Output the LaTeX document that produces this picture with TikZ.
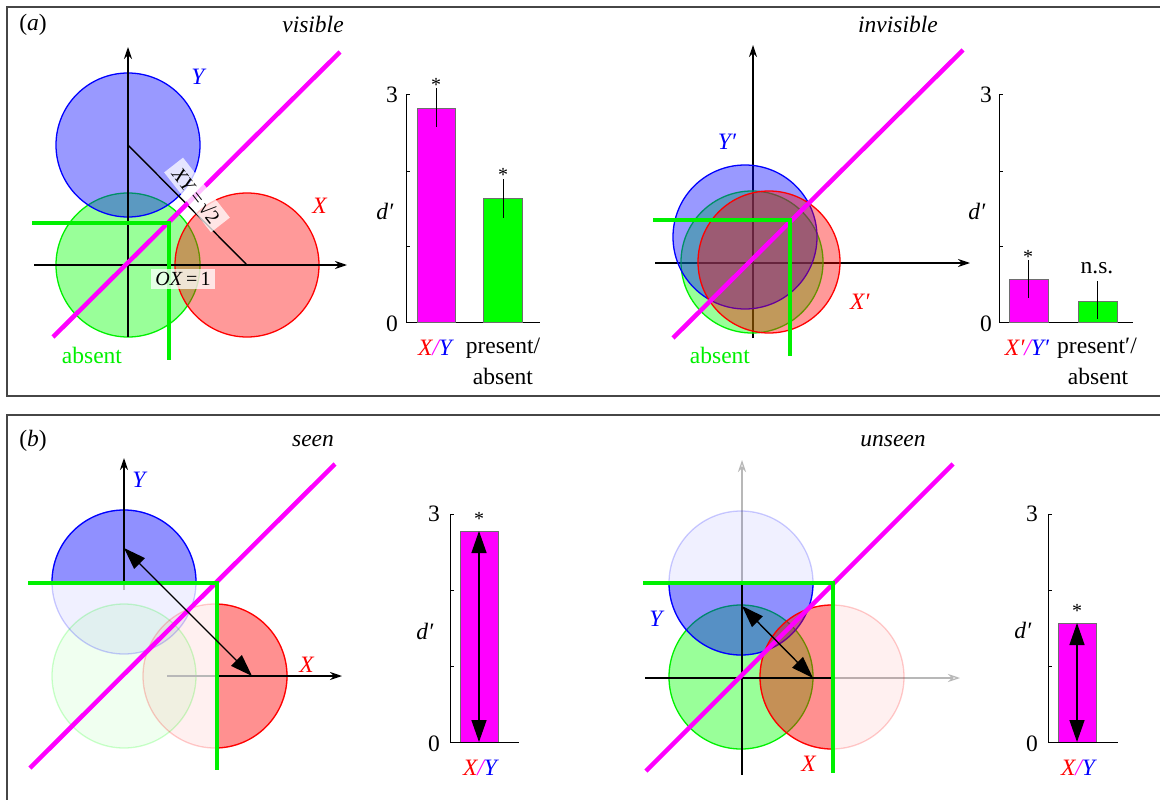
\documentclass[tikz,border=0pt]{standalone}
\usepackage{fontspec}
\setmainfont{Liberation Serif}
\usetikzlibrary{arrows.meta}
\definecolor{tgreen}{RGB}{0,240,0}
\definecolor{mag}{RGB}{255,0,255}
\definecolor{pgreen}{RGB}{0,255,0}
\definecolor{pblue}{RGB}{0,0,255}
\definecolor{pred}{RGB}{255,0,0}
\definecolor{frm}{RGB}{70,70,70}
\definecolor{barline}{RGB}{110,110,110}
\begin{document}
\begin{tikzpicture}[x=1pt,y=-1pt,
  font=\fontsize{23.5}{27}\selectfont,
  lbl/.style={inner sep=0pt},
  ast/.style={inner sep=0pt,font=\fontsize{20}{22}\selectfont},
  ax/.style={line width=1.4pt,-{Stealth[length=12pt,width=8pt]}},
  axl/.style={line width=1.4pt},
  gaxl/.style={line width=1.2pt,draw=black!28},
  gax/.style={line width=1.2pt,draw=black!28,-{Stealth[length=12pt,width=8pt,open]}},
  diag/.style={line width=4.5pt,draw=mag},
  thr/.style={line width=4.5pt,draw=tgreen,line join=miter},
  cB/.style={draw=pblue,line width=1.3pt,fill=pblue,fill opacity=0.4},
  cR/.style={draw=pred,line width=1.3pt,fill=pred,fill opacity=0.4},
  cG/.style={draw=tgreen,line width=1.3pt,fill=pgreen,fill opacity=0.4},
  fB/.style={draw=pblue,draw opacity=0.2,line width=1.3pt,fill=pblue,fill opacity=0.06},
  fR/.style={draw=pred,draw opacity=0.2,line width=1.3pt,fill=pred,fill opacity=0.06},
  fG/.style={draw=pgreen,draw opacity=0.2,line width=1.3pt,fill=pgreen,fill opacity=0.06},
  bax/.style={line width=1pt},
  barM/.style={fill=mag,draw=barline,line width=0.8pt},
  barG/.style={fill=pgreen,draw=barline,line width=0.8pt},
  err/.style={line width=1pt},
  dbl/.style={line width=1.4pt,{Triangle[length=22pt,width=15pt]}-{Triangle[length=22pt,width=15pt]}},
  wbox/.style={fill=white,fill opacity=0.75,text opacity=1,inner xsep=6pt,inner ysep=4pt,font=\fontsize{20}{22}\selectfont},
  frame/.style={draw=frm,line width=1.2pt}
]
\clip (0,0) rectangle (1160,800);
\useasboundingbox (0,0) rectangle (1160,800);
\fill[white] (0,0) rectangle (1160,800);

% frames
\draw[frame] (7,7) rectangle (1175,396);
\draw[frame] (7,415) rectangle (1175,815);

% ================= panel (a) visible =================
\coordinate (Oa) at (128,265);
\coordinate (Xa) at (247,265);
\coordinate (Ya) at (128,145);
\node[lbl] (la) at (33,25) {(\textit{a})};
\node[lbl] (vis) at (313,24) {\textit{visible}};
\draw[cG] (Oa) circle[radius=72pt];
\draw[cB] (Ya) circle[radius=72pt];
\draw[cR] (Xa) circle[radius=72pt];
\coordinate (aHl) at (34,265); \coordinate (aHr) at (347,265);
\coordinate (aVb) at (128,337); \coordinate (aVt) at (128,47);
\draw[ax] (aHl) -- (aHr);
\draw[ax] (aVb) -- (aVt);
\draw[axl] (Ya) -- (Xa);
\coordinate (aD1) at (53,337); \coordinate (aD2) at (340,52);
\draw[diag] (aD1) -- (aD2);
\coordinate (aT1) at (32,223); \coordinate (aT2) at (169,223); \coordinate (aT3) at (169,360);
\draw[thr] (aT1) -- (aT2) -- (aT3);
\node[wbox,rotate=-52] (xylab) at (197,195) {\textit{XY}\,=\,√2};
\node[wbox,inner xsep=4pt,inner ysep=3pt] (oxlab) at (183,279) {\textit{OX}\,=\,1};
\node[lbl,text=pblue] (aYl) at (199,77) {\textit{Y}};
\node[lbl,text=pred] (aXl) at (320,206) {\textit{X}};
\node[lbl,text=tgreen] (aabs) at (92,355) {absent};

% bar chart a1
\coordinate (b1t) at (406,95); \coordinate (b1o) at (406,322); \coordinate (b1r) at (540,322);
\draw[bax] (b1t) -- (b1o) -- (b1r);
\foreach \yy in {95,171,246} \draw[bax] (406,\yy) -- (410,\yy);
\node[lbl] (b1three) at (392,95) {3};
\node[lbl] (b1zero) at (392,324) {0};
\node[lbl] (b1d) at (385,211) {\textit{d′}};
\draw[barM] (417,108) rectangle (455,322);
\draw[err] (436,88) -- (436,127);
\node[ast] (b1s1) at (436,85) {*};
\draw[barG] (483,198) rectangle (522,322);
\draw[err] (503,179) -- (503,218);
\node[ast] (b1s2) at (503,175) {*};
\node[lbl] (b1xy) at (435,348) {\textit{\textcolor{pred}{X}\textcolor{mag}{/}\textcolor{pblue}{Y}}};
\node[lbl] (b1p) at (503,348) {present/};
\node[lbl] (b1a) at (503,376) {absent};

% ================= panel (a) invisible =================
\coordinate (Ob) at (753,263);
\node[lbl] (invis) at (898,24) {\textit{invisible}};
\coordinate (iHl) at (655,263); \coordinate (iHr) at (970,263);
\coordinate (iVb) at (753,338); \coordinate (iVt) at (753,45);
\draw[ax] (iHl) -- (iHr);
\draw[ax] (iVb) -- (iVt);
\draw[cG] (752,262) circle[radius=71pt];
\draw[cB] (745,237) circle[radius=72pt];
\draw[cR] (769,262) circle[radius=71pt];
\coordinate (iD1) at (673,338); \coordinate (iD2) at (963,50);
\draw[diag] (iD1) -- (iD2);
\coordinate (iT1) at (653,220); \coordinate (iT2) at (790,220); \coordinate (iT3) at (790,356);
\draw[thr] (iT1) -- (iT2) -- (iT3);
\node[lbl,text=pblue] (iYl) at (727,142) {\textit{Y′}};
\node[lbl,text=pred] (iXl) at (860,302) {\textit{X′}};
\node[lbl,text=tgreen] (iabs) at (720,355) {absent};

% bar chart a2
\coordinate (b2t) at (999,95); \coordinate (b2o) at (999,322); \coordinate (b2r) at (1133,322);
\draw[bax] (b2t) -- (b2o) -- (b2r);
\foreach \yy in {95,171,246} \draw[bax] (999,\yy) -- (1003,\yy);
\node[lbl] (b2three) at (986,95) {3};
\node[lbl] (b2zero) at (986,324) {0};
\node[lbl] (b2d) at (977,211) {\textit{d′}};
\draw[barM] (1009,279) rectangle (1048,322);
\draw[err] (1028,260) -- (1028,298);
\node[ast] (b2s1) at (1028,257) {*};
\draw[barG] (1078,301) rectangle (1117,322);
\draw[err] (1097,281) -- (1097,319);
\node[lbl] (b2ns) at (1097,268) {n.s.};
\node[lbl] (b2xy) at (1027,348) {\textit{\textcolor{pred}{X′}\textcolor{mag}{/}\textcolor{pblue}{Y′}}};
\node[lbl] (b2p) at (1097,348) {present′/};
\node[lbl] (b2a) at (1098,376) {absent};

% ================= panel (b) seen =================
\node[lbl] (lb) at (33,441) {(\textit{b})};
\node[lbl] (seen) at (313,441) {\textit{seen}};
\coordinate (sG) at (124,676);
\coordinate (sB) at (124,582);
\coordinate (sR) at (215,676);
\draw[fG] (sG) circle[radius=72pt];
\draw[fB] (sB) circle[radius=72pt];
\begin{scope}
  \clip (40,500) rectangle (220,583);
  \draw[cB] (sB) circle[radius=72pt];
\end{scope}
\draw[fR] (sR) circle[radius=72pt];
\begin{scope}
  \clip (217,590) rectangle (300,760);
  \draw[cR] (sR) circle[radius=72pt];
\end{scope}
\coordinate (sHl) at (167,676); \coordinate (sHm) at (217,676); \coordinate (sHr) at (342,676);
\draw[gaxl] (sHl) -- (sHm);
\draw[ax] (sHm) -- (sHr);
\coordinate (sVb) at (124,590); \coordinate (sVm) at (124,583); \coordinate (sVt) at (124,458);
\draw[gaxl] (sVb) -- (sVm);
\draw[ax] (sVm) -- (sVt);
\coordinate (sD1) at (30,768); \coordinate (sD2) at (335,464);
\draw[diag] (sD1) -- (sD2);
\coordinate (sT1) at (28,583); \coordinate (sT2) at (217,583); \coordinate (sT3) at (217,770);
\draw[thr] (sT1) -- (sT2) -- (sT3);
\coordinate (sA1) at (124,548); \coordinate (sA2) at (252,676);
\draw[dbl] (sA1) -- (sA2);
\node[lbl,text=pblue] (sYl) at (140,480) {\textit{Y}};
\node[lbl,text=pred] (sXl) at (307,665) {\textit{X}};

% bar chart b1
\coordinate (b3t) at (450,514); \coordinate (b3o) at (450,742); \coordinate (b3r) at (519,742);
\draw[barM] (460,531) rectangle (498,742);
\draw[bax] (b3t) -- (b3o) -- (b3r);
\foreach \yy in {514,590,666} \draw[bax] (450,\yy) -- (454,\yy);
\coordinate (b3a1) at (479,531); \coordinate (b3a2) at (479,742);
\draw[dbl] (b3a1) -- (b3a2);
\node[ast] (b3s) at (479,519) {*};
\node[lbl] (b3three) at (434,514) {3};
\node[lbl] (b3zero) at (434,744) {0};
\node[lbl] (b3d) at (425,631) {\textit{d′}};
\node[lbl] (b3xy) at (480,768) {\textit{\textcolor{pred}{X}\textcolor{mag}{/}\textcolor{pblue}{Y}}};

% ================= panel (b) unseen =================
\node[lbl] (unseen) at (893,441) {\textit{unseen}};
\coordinate (uG) at (741,677);
\coordinate (uB) at (741,583);
\coordinate (uR) at (832,677);
\coordinate (uVt) at (742,460); \coordinate (uVm) at (742,583); \coordinate (uVb) at (742,775);
\coordinate (uHl) at (645,678); \coordinate (uHm) at (832,678); \coordinate (uHr) at (960,678);
\draw[gax] (uVm) -- (uVt);
\draw[gax] (uHm) -- (uHr);
\draw[cG] (uG) circle[radius=72pt];
\draw[fB] (uB) circle[radius=72pt];
\begin{scope}
  \clip (650,583) rectangle (830,670);
  \draw[cB] (uB) circle[radius=72pt];
\end{scope}
\draw[fR] (uR) circle[radius=72pt];
\begin{scope}
  \clip (750,590) rectangle (832,760);
  \draw[cR] (uR) circle[radius=72pt];
\end{scope}
\draw[axl] (uVm) -- (uVb);
\draw[axl] (uHl) -- (uHm);
\coordinate (uD1) at (646,771); \coordinate (uD2) at (953,464);
\draw[diag] (uD1) -- (uD2);
\coordinate (uT1) at (643,583); \coordinate (uT2) at (833,583); \coordinate (uT3) at (833,773);
\draw[thr] (uT1) -- (uT2) -- (uT3);
\coordinate (uA1) at (742,606); \coordinate (uA2) at (813,678);
\draw[dbl] (uA1) -- (uA2);
\node[lbl,text=pblue] (uYl) at (657,619) {\textit{Y}};
\node[lbl,text=pred] (uXl) at (809,764) {\textit{X}};

% bar chart b2
\coordinate (b4t) at (1048,514); \coordinate (b4o) at (1048,742); \coordinate (b4r) at (1118,742);
\draw[barM] (1058,623) rectangle (1096,742);
\draw[bax] (b4t) -- (b4o) -- (b4r);
\foreach \yy in {514,590,666} \draw[bax] (1048,\yy) -- (1052,\yy);
\coordinate (b4a1) at (1077,623); \coordinate (b4a2) at (1077,742);
\draw[dbl] (b4a1) -- (b4a2);
\node[ast] (b4s) at (1077,611) {*};
\node[lbl] (b4three) at (1032,514) {3};
\node[lbl] (b4zero) at (1032,744) {0};
\node[lbl] (b4d) at (1023,630) {\textit{d′}};
\node[lbl] (b4xy) at (1078,768) {\textit{\textcolor{pred}{X}\textcolor{mag}{/}\textcolor{pblue}{Y}}};
\end{tikzpicture}
\end{document}
